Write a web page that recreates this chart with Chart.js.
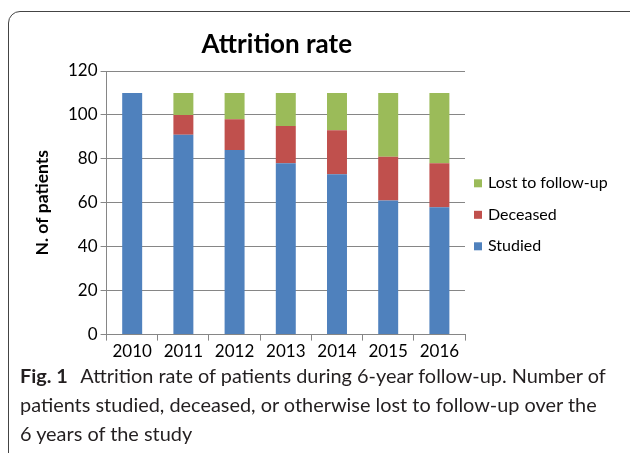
<!DOCTYPE html>
<html>
<head>
<meta charset="utf-8">
<script src="https://cdn.jsdelivr.net/npm/chart.js@4"></script>
<style>
    body { margin: 0; background: #fff; width: 630px; height: 453px; overflow: hidden; position: relative; }
    #frame {
        position: absolute; left: 8px; top: 11px; width: 640px; height: 460px;
        border: 1px solid #444; border-radius: 12px; box-sizing: border-box;
    }
    #wrap { position: absolute; left: 14px; top: 20px; width: 610px; height: 343px; }
    #caption {
        position: absolute; left: 20px; top: 361px; white-space: nowrap;
        font-family: "Lato", "Open Sans", sans-serif; font-size: 19.9px; line-height: 29px; color: #231f20;
    }
    #caption b { margin-right: 8px; }
</style>
</head>
<body>
<div id="frame"></div>
<div id="wrap"><canvas id="attrition"></canvas></div>
<div id="caption"><b>Fig. 1</b> Attrition rate of patients during 6-year follow-up. Number of<br>patients studied, deceased, or otherwise lost to follow-up over the<br>6 years of the study</div>
<script>
    var chartTitle = 'Attrition rate';
    var years = ["2010", "2011", "2012", "2013", "2014", "2015", "2016"];
    var studied = [110, 91, 84, 78, 73, 61, 58];
    var deceased = [0, 9, 14, 17, 20, 20, 20];
    var lostToFollowUp = [0, 10, 12, 15, 17, 29, 32];

    // title over the plot + legend on the right (top entry = last dataset)
    var sideLegend = {
        id: 'sideLegend',
        afterDraw: function (chart) {
            var ctx = chart.ctx;
            var area = chart.chartArea;
            var sets = chart.data.datasets;
            var mid = (area.top + area.bottom) / 2 + 12;
            ctx.save();
            ctx.textBaseline = 'middle';
            ctx.textAlign = 'center';
            ctx.fillStyle = '#000';
            ctx.font = 'bold 26px Lato';
            ctx.fillText(chartTitle, (area.left + area.right) / 2 - 9, area.top - 26);

            ctx.textAlign = 'left';
            ctx.font = '16px Lato';
            for (var i = 0; i < sets.length; i++) {
                var row = sets.length - 1 - i;
                var y = mid + (row - (sets.length - 1) / 2) * 31.5;
                ctx.fillStyle = sets[i].backgroundColor;
                ctx.fillRect(area.right + 9, y - 4, 8, 8);
                ctx.fillStyle = '#000';
                ctx.fillText(sets[i].label, area.right + 23, y);
            }
            ctx.restore();
        }
    };

    var ctx = document.getElementById("attrition").getContext("2d");
    var attritionChart = new Chart(ctx, {
        type: 'bar',
        data: {
            labels: years,
            datasets: [{
                label: 'Studied',
                data: studied,
                backgroundColor: '#4F81BD'
            }, {
                label: 'Deceased',
                data: deceased,
                backgroundColor: '#C0504D'
            }, {
                label: 'Lost to follow-up',
                data: lostToFollowUp,
                backgroundColor: '#9BBB59'
            }]
        },
        plugins: [sideLegend],
        options: {
            responsive: true,
            maintainAspectRatio: false,
            animation: false,
            datasets: {
                bar: {
                    categoryPercentage: 1,
                    barPercentage: 0.39
                }
            },
            layout: {
                padding: { left: 18, right: 159, top: 51, bottom: 0 }
            },
            plugins: {
                title: { display: false },
                legend: { display: false },
                tooltip: { enabled: false }
            },
            scales: {
                x: {
                    stacked: true,
                    border: { color: '#868686' },
                    grid: {
                        drawOnChartArea: false,
                        drawTicks: true,
                        tickLength: 6,
                        color: '#868686'
                    },
                    ticks: {
                        color: '#000',
                        padding: 1,
                        font: { family: 'Lato', size: 17 }
                    }
                },
                y: {
                    stacked: true,
                    min: 0,
                    max: 120,
                    border: { color: '#868686' },
                    grid: {
                        color: '#868686',
                        tickLength: 6
                    },
                    ticks: {
                        stepSize: 20,
                        color: '#000',
                        padding: 3,
                        font: { family: 'Lato', size: 17 }
                    },
                    title: {
                        display: true,
                        text: 'N. of patients',
                        color: '#000',
                        padding: { top: 0, bottom: 12 },
                        font: { family: 'Lato', size: 17.5, weight: 'bold' }
                    }
                }
            }
        }
    });
</script>
</body>
</html>
